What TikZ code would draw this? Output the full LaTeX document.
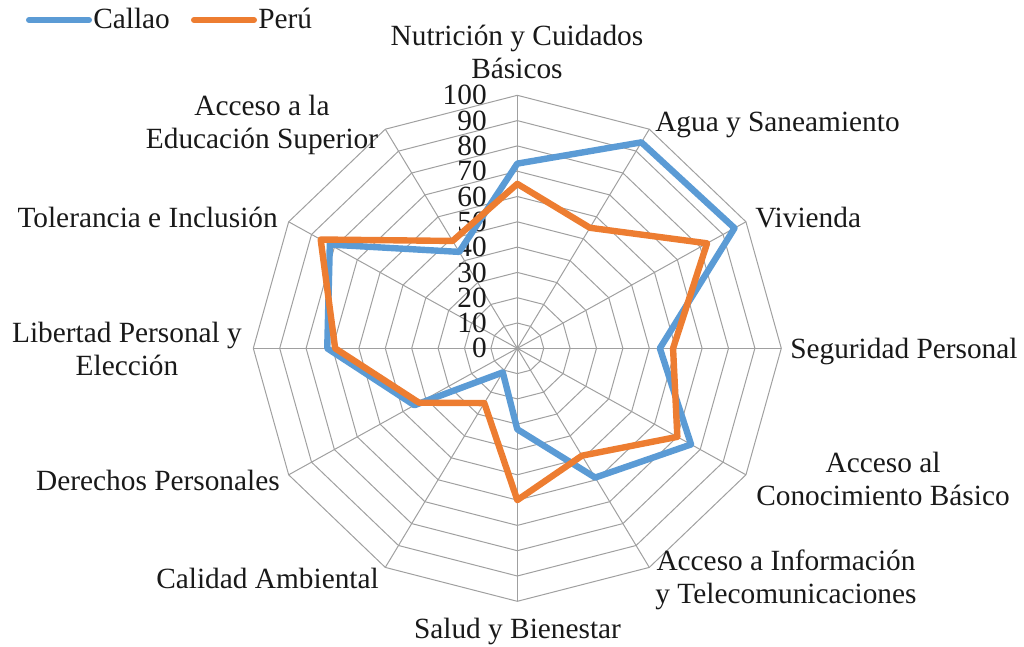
\documentclass[tikz,border=0pt]{standalone}
\usepackage{fontspec}
\setmainfont{Liberation Serif}
\definecolor{callao}{HTML}{5B9BD5}
\definecolor{peru}{HTML}{ED7D31}
\definecolor{gridc}{HTML}{A0A0A0}
\begin{document}
\begin{tikzpicture}[x=0.75pt,y=-0.75pt,
  gridline/.style={draw=gridc,line width=0.75pt},
  serie/.style={line width=4.8pt,line join=round},
  legline/.style={line width=4.5pt,line cap=round},
  lbl/.style={font=\fontsize{22pt}{24.4pt}\selectfont,inner sep=0pt,align=center,text=black!90},
  num/.style={font=\fontsize{22pt}{24.4pt}\selectfont,inner sep=0pt,anchor=east,text=black!90}]
\useasboundingbox (0,0) rectangle (1024,646);
\def\cx{517.3}
\def\cy{348.3}
\coordinate (O) at (\cx,\cy);
% spokes and rings
\foreach \k in {0,...,11}{
  \coordinate (s\k) at ({\cx+264*cos(90-30*\k)},{\cy-253*sin(90-30*\k)});
  \draw[gridline] (O) -- (s\k);
}
\foreach \r in {1,...,10}{
  \draw[gridline] plot[samples at={0,...,11}] ({\cx+26.4*\r*cos(90-30*\x)},{\cy-25.3*\r*sin(90-30*\x)}) -- cycle;
}
% axis numbers
\foreach \v in {0,10,...,100}{
  \node[num] (n\v) at (487,{\cy-2.53*\v}) {\v};
}
% data
\foreach \v [count=\k from 0] in {73,94,95,54,76,59,32,11,45,72,82,44}{
  \coordinate (c\k) at ({\cx+2.64*\v*cos(90-30*\k)},{\cy-2.53*\v*sin(90-30*\k)});
}
\foreach \v [count=\k from 0] in {65,55,83,59,70,49,60,25,43,69,86,49}{
  \coordinate (p\k) at ({\cx+2.64*\v*cos(90-30*\k)},{\cy-2.53*\v*sin(90-30*\k)});
}
\draw[serie,callao] (c0)--(c1)--(c2)--(c3)--(c4)--(c5)--(c6)--(c7)--(c8)--(c9)--(c10)--(c11)--cycle;
\draw[serie,peru] (p0)--(p1)--(p2)--(p3)--(p4)--(p5)--(p6)--(p7)--(p8)--(p9)--(p10)--(p11)--cycle;
% category labels (anchor=base is the last line's baseline)
\node[lbl,anchor=base] (nutri) at (517,78.5) {Nutrición y Cuidados\\Básicos};
\node[lbl,anchor=base west] (agua) at (655,131) {Agua y Saneamiento};
\node[lbl,anchor=base west] (viv) at (755,227) {Vivienda};
\node[lbl,anchor=base west] (seg) at (790,358) {Seguridad Personal};
\node[lbl,anchor=base] (con) at (883,505) {Acceso al\\Conocimiento Básico};
\node[lbl,anchor=base] (inf) at (786,603) {Acceso a Información\\y Telecomunicaciones};
\node[lbl,anchor=base] (sal) at (517.5,638) {Salud y Bienestar};
\node[lbl,anchor=base east] (cal) at (379,588) {Calidad Ambiental};
\node[lbl,anchor=base east] (der) at (280,490) {Derechos Personales};
\node[lbl,anchor=base] (lib) at (127,375) {Libertad Personal y\\Elección};
\node[lbl,anchor=base east] (tol) at (278,227) {Tolerancia e Inclusión};
\node[lbl,anchor=base] (edu) at (262,148) {Acceso a la\\Educación Superior};
% legend
\coordinate (lc1) at (29,20);
\coordinate (lc2) at (89,20);
\draw[legline,callao] (lc1) -- (lc2);
\node[lbl,anchor=base west] (lcal) at (93,28) {Callao};
\coordinate (lp1) at (194,20);
\coordinate (lp2) at (254,20);
\draw[legline,peru] (lp1) -- (lp2);
\node[lbl,anchor=base west] (lper) at (258,28) {Perú};
\end{tikzpicture}
\end{document}
